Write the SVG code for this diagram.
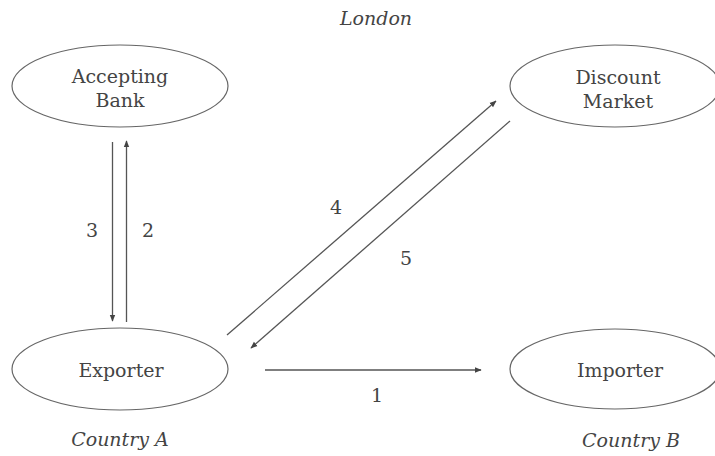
<svg xmlns="http://www.w3.org/2000/svg" width="715" height="456" viewBox="0 0 715 456">
<style>
.node ellipse{fill:none;stroke:#666;stroke-width:1.2}
text{font-family:'DejaVu Serif','Liberation Serif',serif;font-size:19px;fill:#444;text-anchor:middle}
.it{font-style:italic}
.conn line{stroke:#555;stroke-width:1.3}
</style>
<defs>
<marker id="ah" viewBox="0 0 10 10" refX="9" refY="5" markerWidth="7" markerHeight="7" markerUnits="userSpaceOnUse" orient="auto">
<path d="M0,1 L10,5 L0,9 Z" fill="#444"/>
</marker>
</defs>
<rect width="715" height="456" fill="#fff"/>
<text class="it" x="376" y="25">London</text>
<text class="it" x="120" y="446">Country A</text>
<text class="it" x="631" y="447">Country B</text>
<g id="accepting-bank" class="node">
<ellipse cx="120" cy="86" rx="108" ry="41"/>
<text x="120" y="83">Accepting</text>
<text x="120" y="107">Bank</text>
</g>
<g id="discount-market" class="node">
<ellipse cx="615" cy="86" rx="105" ry="41"/>
<text x="618" y="84">Discount</text>
<text x="618" y="108">Market</text>
</g>
<g id="exporter" class="node">
<ellipse cx="120" cy="369" rx="108" ry="41"/>
<text x="121" y="377">Exporter</text>
</g>
<g id="importer" class="node">
<ellipse cx="615" cy="369" rx="105" ry="40"/>
<text x="620" y="377">Importer</text>
</g>
<g id="connectors" class="conn">
<line x1="112.5" y1="142" x2="112.5" y2="321" marker-end="url(#ah)"/>
<line x1="126.5" y1="322" x2="126.5" y2="141" marker-end="url(#ah)"/>
<line x1="227" y1="335" x2="496" y2="101" marker-end="url(#ah)"/>
<line x1="510" y1="121" x2="251" y2="348" marker-end="url(#ah)"/>
<line x1="265" y1="370" x2="481" y2="370" marker-end="url(#ah)"/>
</g>
<g id="labels">
<text x="92" y="237">3</text>
<text x="148" y="237">2</text>
<text x="336" y="214">4</text>
<text x="406" y="265">5</text>
<text x="377" y="402">1</text>
</g>
</svg>
